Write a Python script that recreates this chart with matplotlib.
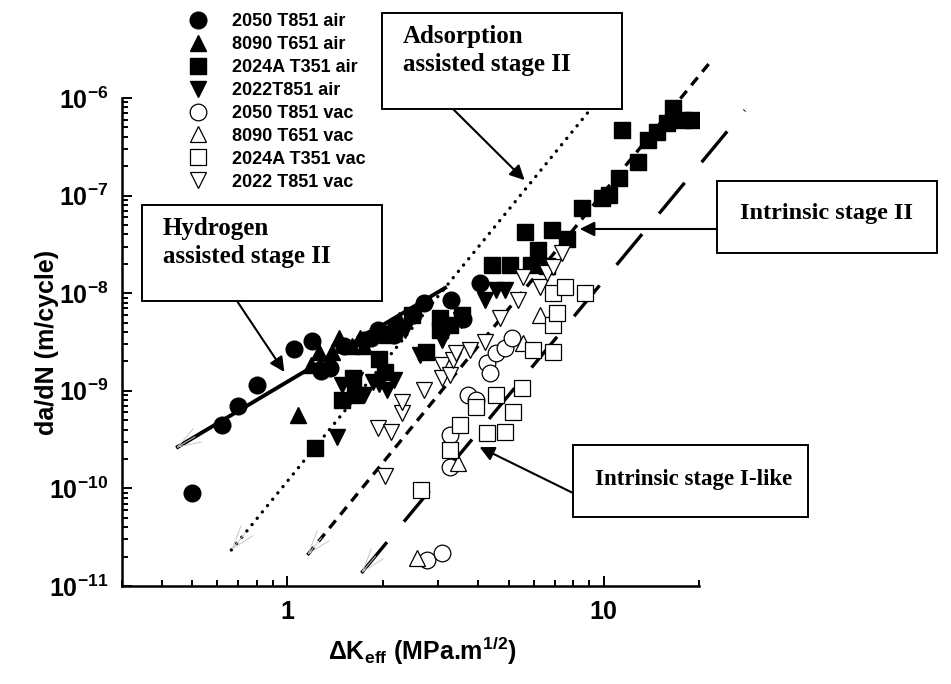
import numpy as np
import matplotlib
matplotlib.use("Agg")
import matplotlib.pyplot as plt
from matplotlib.patches import Rectangle
from matplotlib.ticker import LogLocator, NullFormatter

plt.rcParams['font.family'] = ['Liberation Sans', 'DejaVu Sans']
plt.rcParams['font.weight'] = 'bold'
plt.rcParams['axes.labelweight'] = 'bold'
plt.rcParams['mathtext.fontset'] = 'custom'
plt.rcParams['mathtext.rm'] = 'Liberation Sans:bold'
plt.rcParams['mathtext.it'] = 'Liberation Sans:bold'
plt.rcParams['mathtext.bf'] = 'Liberation Sans:bold'
plt.rcParams['mathtext.default'] = 'regular'

# data: delta K_eff (MPa.m^1/2) and da/dN (m/cycle)
circ_air_x = [0.50, 0.62, 0.70, 0.80, 1.05, 1.20, 1.28, 1.36, 1.51, 1.75, 1.84, 1.93, 2.05, 2.18, 2.2, 2.5,
              2.7, 3.3, 3.6, 4.05]
circ_air_y = [9.0e-11, 4.5e-10, 7.0e-10, 1.15e-9, 2.7e-9, 3.2e-9, 1.6e-9, 1.7e-9, 2.9e-9, 3.3e-9, 3.5e-9,
              4.2e-9, 3.8e-9, 3.7e-9, 4.7e-9, 6.0e-9, 8.0e-9, 8.5e-9, 5.5e-9, 1.27e-8]

tri_air_x = [1.08, 1.19, 1.26, 1.38, 1.46, 1.60, 1.69, 1.75, 1.93, 2.07, 2.26]
tri_air_y = [5.6e-10, 1.85e-9, 2.5e-9, 2.5e-9, 3.5e-9, 2.9e-9, 3.5e-9, 2.9e-9, 4.2e-9, 3.7e-9, 5.3e-9]

sq_air_x = [1.22, 1.49, 1.61, 1.63, 1.95, 2.03, 2.47, 2.75, 3.03, 3.03, 3.26, 3.56, 4.42, 5.04, 5.62, 5.9,
            6.18, 6.6, 6.84, 7.64, 8.51, 9.86, 10.4, 11.2, 11.4, 12.8, 13.8, 14.7, 15.8, 16.5, 17.8, 19.1]
sq_air_y = [2.6e-10, 8.0e-10, 1.35e-9, 9.0e-10, 2.1e-9, 1.56e-9, 6.0e-9, 2.5e-9, 4.2e-9, 5.6e-9, 4.7e-9,
            6.0e-9, 1.95e-8, 1.95e-8, 4.2e-8, 1.95e-8, 2.8e-8, 1.9e-8, 4.4e-8, 3.6e-8, 7.5e-8, 9.5e-8,
            1.01e-7, 1.5e-7, 4.7e-7, 2.2e-7, 3.7e-7, 4.5e-7, 5.5e-7, 7.9e-7, 6.0e-7, 6.0e-7]

inv_air_x = [1.43, 1.49, 1.63, 1.75, 1.86, 1.95, 2.07, 2.18, 2.35, 2.62, 3.07, 3.09, 3.55, 4.2, 4.58, 4.86]
inv_air_y = [3.4e-10, 1.15e-9, 1.3e-9, 9.0e-10, 1.23e-9, 1.17e-9, 1.02e-9, 1.3e-9, 4.2e-9, 2.33e-9, 4.0e-9,
             3.3e-9, 5.3e-9, 8.5e-9, 1.08e-8, 1.08e-8]

circ_vac_x = [2.77, 3.07, 3.26, 3.26, 3.71, 3.96, 4.26, 4.36, 4.58, 4.86, 5.12]
circ_vac_y = [1.85e-11, 2.2e-11, 1.66e-10, 3.5e-10, 9.0e-10, 8.0e-10, 1.93e-9, 1.52e-9, 2.44e-9, 2.75e-9, 3.5e-9]

tri_vac_x = [2.56, 3.45, 5.54, 6.27]
tri_vac_y = [1.94e-11, 1.82e-10, 3.1e-9, 6.0e-9]

sq_vac_x = [2.65, 3.26, 3.5, 3.96, 4.26, 4.58, 4.86, 5.15, 5.5, 5.96, 6.9, 6.9, 7.1, 6.9, 7.53, 8.71]
sq_vac_y = [9.6e-11, 2.47e-10, 4.47e-10, 6.8e-10, 3.7e-10, 9.1e-10, 3.8e-10, 6.1e-10, 1.07e-9, 2.62e-9,
            2.5e-9, 4.72e-9, 6.27e-9, 1.0e-8, 1.16e-8, 1.0e-8]

inv_vac_x = [1.93, 2.03, 2.13, 2.31, 2.31, 2.71, 3.07, 3.09, 3.26, 3.33, 3.42, 3.77, 4.2, 4.69, 5.35, 5.54,
             6.27, 6.6, 6.9, 7.36]
inv_vac_y = [4.2e-10, 1.35e-10, 3.8e-10, 5.9e-10, 7.7e-10, 1.02e-9, 1.85e-9, 1.35e-9, 1.45e-9, 2.07e-9,
             2.44e-9, 2.63e-9, 3.16e-9, 5.6e-9, 8.5e-9, 1.47e-8, 1.16e-8, 1.61e-8, 1.85e-8, 2.58e-8]

# fitted regimes (end points)
h2_x, h2_y = [0.445, 3.19], [2.6e-10, 1.16e-8]
ads_x, ads_y = [0.665, 9.03], [2.34e-11, 7.5e-7]
mid_x, mid_y = [1.157, 21.6], [2.08e-11, 2.29e-6]
int_x, int_y = [1.714, 27.9], [1.36e-11, 7.5e-7]

x_ticks = [1, 10]
x_tick_labels = ['1', '10']
y_ticks = [1e-11, 1e-10, 1e-9, 1e-8, 1e-7, 1e-6]
y_tick_labels = ['10$^{-11}$', '10$^{-10}$', '10$^{-9}$', '10$^{-8}$', '10$^{-7}$', '10$^{-6}$']

W, H = 951, 684
fig = plt.figure(figsize=(W / 100, H / 100), dpi=100)
ax = fig.add_axes([122 / W, 1 - 586 / H, 577 / W, 488 / H])


def fx(px):
    return px / W


def fy(py):
    return 1 - py / H


ax.set_xscale('log')
ax.set_yscale('log')
ax.set_xlim(0.3, 20)
ax.set_ylim(1e-11, 1e-6)

lw = 2.4
ax.plot(h2_x, h2_y, color='black', lw=2.8, solid_capstyle='butt', zorder=2)
ax.plot(ads_x, ads_y, color='black', lw=lw, linestyle=(0, (0.05, 2.4)), dash_capstyle='round', zorder=2)
ax.plot(mid_x, mid_y, color='black', lw=lw, linestyle=(0, (3.0, 2.2)), zorder=2, clip_on=False)
ax.plot(int_x, int_y, color='black', lw=lw, linestyle=(0, (12, 8)), zorder=2, clip_on=False)

# small grey arrow heads at the low end of each line
for xs, ys in [(h2_x, h2_y), (ads_x, ads_y), (mid_x, mid_y), (int_x, int_y)]:
    p0 = ax.transData.transform((xs[0], ys[0]))
    p1 = ax.transData.transform((xs[1], ys[1]))
    u = (p1 - p0) / np.hypot(*(p1 - p0))
    off = u * 22 * 0.72
    ax.annotate('', xy=(xs[0], ys[0]), xytext=(off[0], off[1]), textcoords='offset points',
                arrowprops=dict(arrowstyle='->,head_length=1.2,head_width=0.4', color='#c8c8c8', lw=0.7,
                                shrinkA=0, shrinkB=0, mutation_scale=14),
                annotation_clip=False, zorder=2)

ms = 12
h = []
h += ax.plot(circ_air_x, circ_air_y, 'o', color='black', ms=ms, ls='none', label='2050 T851 air', zorder=3)
h += ax.plot(tri_air_x, tri_air_y, '^', color='black', ms=ms, ls='none', label='8090 T651 air', zorder=3)
h += ax.plot(sq_air_x, sq_air_y, 's', color='black', ms=ms, ls='none', label='2024A T351 air', zorder=3)
h += ax.plot(inv_air_x, inv_air_y, 'v', color='black', ms=ms, ls='none', label='2022T851 air', zorder=3)
open_kw = dict(ms=ms, ls='none', mfc='white', mec='black', mew=0.9, zorder=4)
h += ax.plot(circ_vac_x, circ_vac_y, 'o', label='2050 T851 vac', **open_kw)
h += ax.plot(tri_vac_x, tri_vac_y, '^', label='8090 T651 vac', **open_kw)
h += ax.plot(sq_vac_x, sq_vac_y, 's', label='2024A T351 vac', **open_kw)
h += ax.plot(inv_vac_x, inv_vac_y, 'v', label='2022 T851 vac', **open_kw)

ax.set_xticks(x_ticks, x_tick_labels)
ax.set_yticks(y_ticks, y_tick_labels)
ax.xaxis.set_minor_locator(LogLocator(base=10, subs=np.arange(2, 10), numticks=20))
ax.yaxis.set_minor_locator(LogLocator(base=10, subs=np.arange(2, 10), numticks=20))
ax.xaxis.set_minor_formatter(NullFormatter())
ax.yaxis.set_minor_formatter(NullFormatter())
ax.tick_params(which='both', direction='in', width=1.4, top=False, right=False)
ax.tick_params(which='major', length=7, labelsize=18)
ax.tick_params(which='minor', length=4)
ax.tick_params(axis='x', pad=10)
ax.tick_params(axis='y', pad=10)
for s in ['top', 'right']:
    ax.spines[s].set_visible(False)
for s in ['left', 'bottom']:
    ax.spines[s].set_linewidth(1.8)

ax.set_ylabel('da/dN (m/cycle)', fontsize=18, fontweight='bold')
ax.yaxis.set_label_coords(-0.11, 0.5)
ax.set_xlabel('ΔK$_{eff}$ (MPa.m$^{1/2}$)', fontsize=18, fontweight='bold')
ax.xaxis.set_label_coords(0.52, -0.1)

fig.legend(handles=h, loc='upper left', bbox_to_anchor=(fx(186), fy(13)), frameon=False,
           prop=dict(family='Liberation Sans', weight='bold', size=13), handlelength=1.3,
           handletextpad=1.25, labelspacing=0.33, borderpad=0, borderaxespad=0, numpoints=1)

# annotation boxes (pixel layout)
boxes = [(382, 13, 622, 109), (142, 205, 382, 301), (717, 181, 937, 253), (573, 445, 808, 517)]
for x0, y0, x1, y1 in boxes:
    fig.add_artist(Rectangle((fx(x0), fy(y1)), (x1 - x0) / W, (y1 - y0) / H, transform=fig.transFigure,
                             fc='white', ec='black', lw=1.4, zorder=5))

serif = dict(family='Liberation Serif', weight='bold', zorder=7)
fig.text(fx(403), fy(25), 'Adsorption\nassisted stage II', ha='left', va='top', linespacing=1.25,
         size=18, **serif)
fig.text(fx(163), fy(217), 'Hydrogen\nassisted stage II', ha='left', va='top', linespacing=1.25,
         size=18, **serif)
fig.text(fx(827), fy(214), 'Intrinsic stage II', ha='center', va='center', size=17.5, **serif)
fig.text(fx(595), fy(479), 'Intrinsic stage I-like', ha='left', va='center', size=16.5, **serif)

arrows = [((5.62, 1.44e-7), (453, 109)), ((0.978, 1.56e-9), (237, 301)),
          ((8.4, 4.55e-8), (717, 229)), ((4.05, 2.65e-10), (573, 493))]
for tip, tail in arrows:
    ax.annotate('', xy=tip, xytext=(fx(tail[0]), fy(tail[1])), textcoords='figure fraction',
                arrowprops=dict(arrowstyle='-|>', color='black', lw=1.5, mutation_scale=22,
                                shrinkA=0, shrinkB=0),
                annotation_clip=False, zorder=6)

fig.savefig('out.png', dpi=100)
